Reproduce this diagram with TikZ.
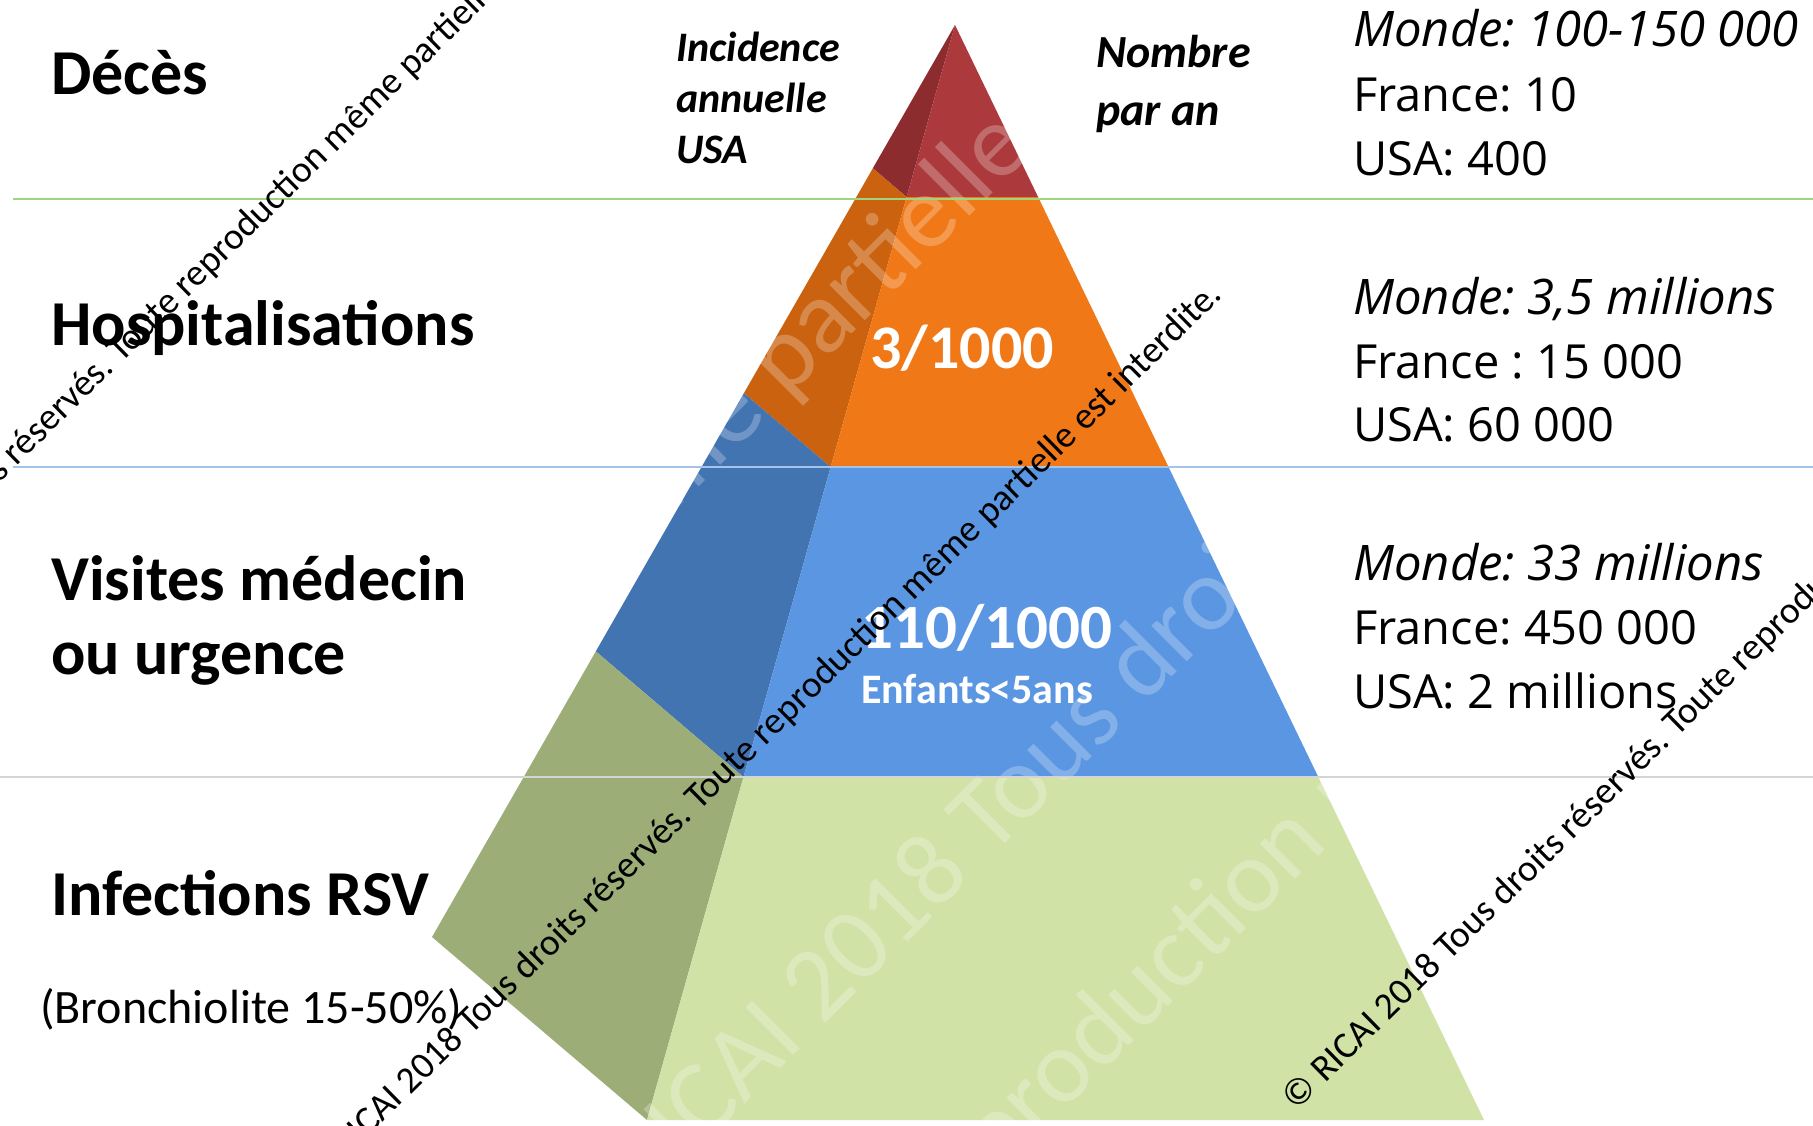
\documentclass[tikz,border=0pt]{standalone}
\usepackage{fontspec}
\setmainfont{Carlito}
\newfontfamily\osans{Open Sans}
\usetikzlibrary{calc}
\definecolor{redF}{RGB}{172,58,60}
\definecolor{redL}{RGB}{140,44,46}
\definecolor{orangeF}{RGB}{240,120,22}
\definecolor{orangeL}{RGB}{202,98,16}
\definecolor{blueF}{RGB}{90,150,225}
\definecolor{blueL}{RGB}{66,116,178}
\definecolor{greenF}{RGB}{208,226,166}
\definecolor{greenL}{RGB}{156,173,120}
\definecolor{lineG}{RGB}{160,212,125}
\definecolor{lineB}{RGB}{165,195,232}
\definecolor{lineN}{RGB}{212,212,212}
\frenchspacing
\begin{document}
\frenchspacing
\begin{tikzpicture}[x=1pt,y=-1pt,
  lbl/.style={anchor=base west, inner sep=0, font=\bfseries\fontsize{64}{74}\selectfont},
  sub/.style={anchor=base west, inner sep=0, font=\fontsize{48}{56}\selectfont},
  head/.style={anchor=base west, inner sep=0, font=\bfseries\itshape\fontsize{#1}{#1}\selectfont},
  data/.style={anchor=base west, inner sep=0, font=\osans\fontsize{47}{56}\selectfont},
  datai/.style={anchor=base west, inner sep=0, font=\osans\itshape\fontsize{49}{56}\selectfont},
  num/.style={anchor=base, inner sep=0, text=white, font=\bfseries\fontsize{#1}{#1}\selectfont},
  wmark/.style={anchor=base, inner sep=0, rotate=44.5, font=\fontsize{37.5}{40}\selectfont},
  faint/.style={anchor=base, inner sep=0, rotate=45, text=white, text opacity=0.25, font=\fontsize{105}{110}\selectfont},
  hline/.style={line width=2pt}
]
\useasboundingbox (0,0) rectangle (1813,1125);
\clip (0,0) rectangle (1813,1125);
\fill[white] (0,0) rectangle (1813,1125);

% pyramid geometry
\coordinate (A) at (955,25);
\coordinate (B) at (432,937);
\coordinate (F) at (647,1120);
\coordinate (R) at (1484,1120);
\def\ta{0.1571}\def\tb{0.4037}\def\tc{0.6868}
\coordinate (F1) at ($(A)!\ta!(F)$);
\coordinate (F2) at ($(A)!\tb!(F)$);
\coordinate (F3) at ($(A)!\tc!(F)$);
\coordinate (R1) at ($(A)!\ta!(R)$);
\coordinate (R2) at ($(A)!\tb!(R)$);
\coordinate (R3) at ($(A)!\tc!(R)$);
\coordinate (B1) at ($(A)!\ta!(B)$);
\coordinate (B2) at ($(A)!\tb!(B)$);
\coordinate (B3) at ($(A)!\tc!(B)$);

% left (shaded) face
\fill[redL] (A) -- (B1) -- (F1) -- cycle;
\fill[orangeL] (B1) -- (B2) -- (F2) -- (F1) -- cycle;
\fill[blueL] (B2) -- (B3) -- (F3) -- (F2) -- cycle;
\fill[greenL] (B3) -- (B) -- (F) -- (F3) -- cycle;
% front face
\fill[redF] (A) -- (F1) -- (R1) -- cycle;
\fill[orangeF] (F1) -- (F2) -- (R2) -- (R1) -- cycle;
\fill[blueF] (F2) -- (F3) -- (R3) -- (R2) -- cycle;
\fill[greenF] (F3) -- (F) -- (R) -- (R3) -- cycle;

% faint white watermark
\node[faint] (f1) at (911,275) {\llap{RICAI 2018 Tous droits réservés. Toute reproduction même }partielle\rlap{ est interdite.}};
\node[faint] (f2) at (898,951) {\llap{© RICAI }2018\rlap{ Tous droits réservés. Toute reproduction même partielle est interdite.}};
\node[faint] (f3) at (1133,1042) {\llap{Tous droits réservés. Toute }reproduction\rlap{ même partielle est interdite.}};

% separator lines
\draw[hline, lineG] (13,199) -- (1813,199);
\draw[hline, lineB] (13,467) -- (1813,467);
\draw[hline, lineN] (0,777) -- (1813,777);

% left labels
\node[lbl] (deces) at (51,94) {Décès};
\node[lbl] (hosp) at (51,345) {Hospitalisations};
\node[lbl] (visites1) at (51,600) {Visites médecin};
\node[lbl] (visites2) at (51,674) {ou urgence};
\node[lbl] (infect) at (51,915) {Infections RSV};
\node[sub] (bronch) at (40,1023) {(Bronchiolite 15-50\%)};

% column headers
\node[head=42] (inc1) at (676,61) {Incidence};
\node[head=42] (inc2) at (676,112) {annuelle};
\node[head=42] (inc3) at (676,163) {USA};
\node[head=46] (nb1) at (1096,67) {Nombre};
\node[head=46] (nb2) at (1096,125) {par an};

% numbers on pyramid
\node[num=62] (n3) at (962,368) {3/1000};
\node[num=63] (n110) at (987,648) {110/1000};
\node[num=42] (enf) at (977,703) {Enfants<5ans};

% right column
\node[datai] (m1) at (1353,46) {Monde: 100-150 000};
\node[data] (fr1) at (1353,111) {France: 10};
\node[data] (us1) at (1353,175) {USA: 400};
\node[datai] (m2) at (1353,314) {Monde: 3,5 millions};
\node[data] (fr2) at (1353,378) {France : 15 000};
\node[data] (us2) at (1353,441) {USA: 60 000};
\node[datai] (m3) at (1353,580) {Monde: 33 millions};
\node[data] (fr3) at (1353,644) {France: 450 000};
\node[data] (us3) at (1353,708) {USA: 2 millions};

% black watermark lines
\node[wmark] (w1) at (66,418) {\llap{© RICAI 2018 Tous droits }réservés.\rlap{ Toute reproduction même partielle est interdite.}};
\node[wmark] (w2) at (644,866) {\llap{© RICAI 2018 Tous droits }réservés.\rlap{ Toute reproduction même partielle est interdite.}};
\node[wmark] (w3) at (1622,792) {\llap{© RICAI 2018 Tous droits }réservés.\rlap{ Toute reproduction même partielle est interdite.}};
\end{tikzpicture}
\end{document}
